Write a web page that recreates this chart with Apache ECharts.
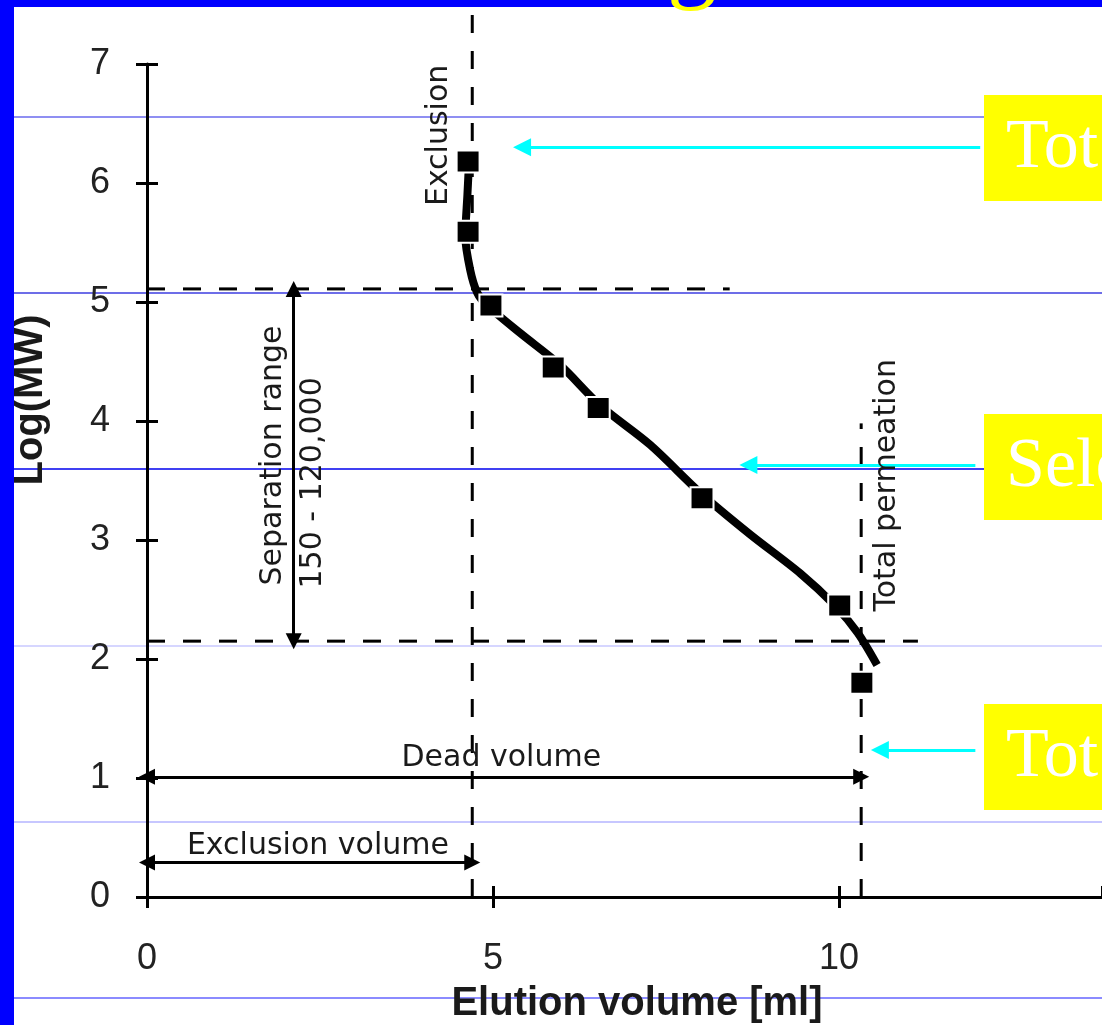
<!DOCTYPE html>
<html>
<head>
<meta charset="utf-8">
<script src="https://cdn.jsdelivr.net/npm/echarts@6/dist/echarts.min.js"></script>
<style>
html,body{margin:0;padding:0;background:#fff;}
#chart{width:1102px;height:1025px;}
</style>
</head>
<body>
<div id="chart"></div>
<script>
// ---- data ----
const xTicks = [0, 5, 10];
const yTicks = [0, 1, 2, 3, 4, 5, 6, 7];
const elutionVolume = [4.64, 4.64, 4.97, 5.87, 6.52, 8.02, 10.01, 10.33];
const logMW = [6.18, 5.59, 4.97, 4.45, 4.11, 3.35, 2.45, 1.80];
const curveX = [4.66, 4.63, 4.60, 4.67, 4.77, 4.90, 5.39, 5.97, 6.55, 7.27, 7.99, 8.71, 9.44, 9.94, 10.27, 10.55];
const curveY = [6.25, 5.90, 5.55, 5.27, 5.08, 4.98, 4.74, 4.47, 4.13, 3.80, 3.40, 3.05, 2.72, 2.45, 2.22, 1.95];
const exclusionVol = 4.70;
const totalPermVol = 10.32;
const upperLimit = 5.11;
const lowerLimit = 2.15;
const dashedSegments = [
  [[exclusionVol, 0], [exclusionVol, 7.62]],
  [[0, upperLimit], [8.42, upperLimit]],
  [[0, lowerLimit], [11.14, lowerLimit]],
  [[totalPermVol, 0], [totalPermVol, 3.98]]
];
const doubleArrows = [
  [[2.12, upperLimit], [2.12, lowerLimit]],
  [[0, 1.01], [totalPermVol, 1.01]],
  [[0, 0.29], [exclusionVol, 0.29]]
];
const cyanArrows = [
  [[12.04, 6.30], [5.42, 6.30]],
  [[11.97, 3.63], [8.69, 3.63]],
  [[11.97, 1.235], [10.59, 1.235]]
];
const annotationText = ['Exclusion', 'Separation range', '150 - 120,000', 'Total permeation', 'Dead volume', 'Exclusion volume'];
const annotationX = [4.22, 1.82, 2.40, 10.69, 5.12, 2.47];
const annotationY = [6.40, 3.71, 3.48, 3.46, 1.17, 0.43];
const annotationRotate = [90, 90, 90, 90, 0, 0];
const boxText = ['Tot', 'Sele', 'Tot'];
const xTitle = 'Elution volume [ml]';
const yTitle = 'Log(MW)';

// ---- chart ----
const chart = echarts.init(document.getElementById('chart'));
const textColor = '#1a1a1a';
const annFont = 'DejaVu Sans';

const series = [];
dashedSegments.forEach(seg => {
  series.push({
    type: 'line', data: seg, symbol: 'none', clip: false, silent: true, z: 3,
    lineStyle: { color: '#000', width: 3, type: [18, 18] }
  });
});
series.push({
  type: 'line', data: [], symbol: 'none', silent: true, z: 3,
  markLine: {
    silent: true, symbol: ['triangle', 'triangle'], symbolSize: [16, 16],
    label: { show: false },
    lineStyle: { color: '#000', width: 3, type: 'solid' },
    itemStyle: { color: '#000' },
    emphasis: { disabled: true },
    data: doubleArrows.map(s => [{ coord: s[0] }, { coord: s[1] }])
  }
});
series.push({
  type: 'line', data: [], symbol: 'none', silent: true, z: 3,
  markLine: {
    silent: true, symbol: ['none', 'triangle'], symbolSize: [18, 18],
    label: { show: false },
    lineStyle: { color: '#00ffff', width: 3, type: 'solid' },
    itemStyle: { color: '#00ffff' },
    emphasis: { disabled: true },
    data: cyanArrows.map(s => [{ coord: s[0] }, { coord: s[1] }])
  }
});
series.push({
  type: 'line', smooth: 0.3, symbol: 'none', silent: true, z: 4,
  data: curveX.map((x, i) => [x, curveY[i]]),
  lineStyle: { color: '#000', width: 8 }
});
series.push({
  type: 'scatter', symbol: 'rect', symbolSize: [23, 22], silent: true, z: 5,
  data: elutionVolume.map((x, i) => [x, logMW[i]]),
  itemStyle: { color: '#000', borderColor: '#fff', borderWidth: 2, opacity: 1 }
});
series.push({
  type: 'scatter', symbolSize: 0, silent: true, z: 6,
  itemStyle: { opacity: 1 },
  data: annotationX.map((x, i) => ({
    value: [x, annotationY[i]],
    label: { rotate: annotationRotate[i] }
  })),
  label: {
    show: true, position: 'inside', align: 'center', verticalAlign: 'middle',
    fontFamily: annFont, fontSize: 30, color: textColor, opacity: 1,
    formatter: p => annotationText[p.dataIndex]
  }
});

const blueLines = [
  { y: 117, c: '#6a6aee' }, { y: 293, c: '#3c3ce0' }, { y: 469, c: '#0000ee' },
  { y: 646, c: '#c8c8ff' }, { y: 822, c: '#b4b4ff' }, { y: 998, c: '#6464ff' }
];
const graphics = [];
blueLines.forEach(l => graphics.push({
  type: 'line', z: -1, silent: true,
  shape: { x1: 14, y1: l.y, x2: 1102, y2: l.y },
  style: { stroke: l.c, lineWidth: 1.5 }
}));
[95, 414, 704].forEach((y, i) => {
  graphics.push({ type: 'rect', z: 50, silent: true, shape: { x: 984, y: y, width: 130, height: 106 }, style: { fill: '#ffff00' } });
  graphics.push({
    type: 'text', z: 51, silent: true, x: 1006, y: y + 54,
    style: { text: boxText[i], fill: '#fff', font: '70px "Liberation Serif"', align: 'left', verticalAlign: 'middle' }
  });
});
graphics.push({
  type: 'text', z: 10, silent: true, x: 31, y: 400, rotation: Math.PI / 2,
  style: { text: yTitle, fill: textColor, font: 'bold 40px "Liberation Sans"', align: 'center', verticalAlign: 'middle' }
});
graphics.push({
  type: 'text', z: 10, silent: true, x: 637, y: 1004,
  style: { text: xTitle, fill: textColor, font: 'bold 40px "Liberation Sans"', align: 'center', verticalAlign: 'middle' }
});
graphics.push({ type: 'rect', z: 100, silent: true, shape: { x: 0, y: 0, width: 14, height: 1025 }, style: { fill: '#0000ff' } });
graphics.push({ type: 'rect', z: 100, silent: true, shape: { x: 0, y: 0, width: 1102, height: 7 }, style: { fill: '#0000ff' } });
graphics.push({
  type: 'text', z: 101, silent: true, x: 692, y: 14,
  style: { text: 'g', fill: '#ffff00', font: '100px "Liberation Serif"', align: 'center', verticalAlign: 'bottom' }
});

const axisCommon = (isX, inside) => ({
  type: 'value', min: 0, max: isX ? 13.8 : 7, interval: isX ? 5 : 1,
  position: isX ? 'bottom' : 'left',
  splitLine: { show: false },
  axisLine: { show: !inside, onZero: false, lineStyle: { color: '#000', width: 3 } },
  axisTick: { show: true, inside: inside, length: 11, lineStyle: { color: '#000', width: 3 } },
  axisLabel: inside ? { show: false } : {
    show: true, showMaxLabel: !isX, margin: isX ? 44 : 37,
    fontFamily: 'Liberation Sans', fontSize: 36, color: '#222'
  }
});

chart.setOption({
  animation: false,
  backgroundColor: '#fff',
  grid: { left: 147, top: 64, bottom: 128, right: 0, containLabel: false },
  xAxis: [axisCommon(true, false), axisCommon(true, true)],
  yAxis: [axisCommon(false, false), axisCommon(false, true)],
  graphic: { elements: graphics },
  series: series
});
</script>
</body>
</html>
